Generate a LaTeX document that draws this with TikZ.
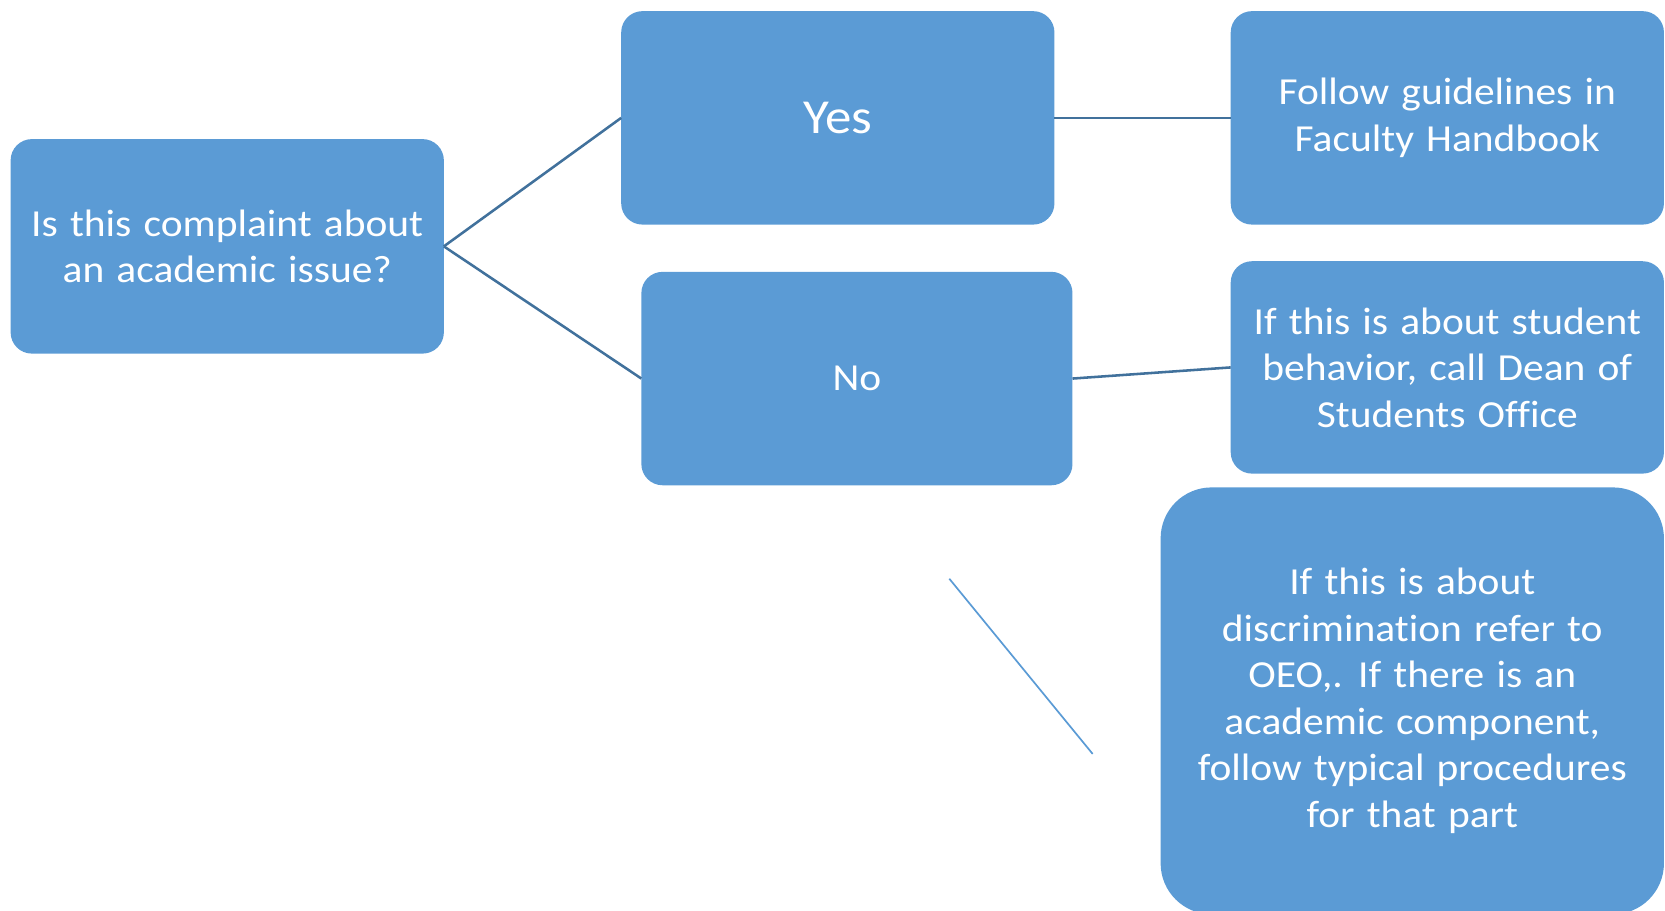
\documentclass[tikz,border=0pt]{standalone}
\usepackage{fontspec}
\setmainfont[FakeStretch=1.085,WordSpace=1.3,Ligatures=NoCommon]{Carlito}
\definecolor{boxblue}{HTML}{5B9BD5}
\definecolor{linkblue}{HTML}{41719C}
\begin{document}
\begin{tikzpicture}[x=0.5pt,y=-0.5pt,
  card/.style={draw=none,fill=boxblue,rounded corners=10pt,text=white,align=center,
    inner sep=0pt,outer sep=0pt,font=\fontsize{18pt}{21.9pt}\selectfont},
  link/.style={draw=linkblue,line width=1.2pt},
  thinlink/.style={draw=boxblue,line width=0.8pt}]
\useasboundingbox (0,0) rectangle (1568,857);
\node[card,minimum width=204pt,minimum height=101pt] (q) at (214,232)
  {Is this complaint about\\an academic issue?};
\node[card,minimum width=204pt,minimum height=100.5pt,font=\fontsize{23pt}{27pt}\selectfont] (yes) at (789,111) {Yes};
\node[card,minimum width=203pt,minimum height=100.5pt] (no) at (807,356.5) {No};
\node[card,minimum width=204pt,minimum height=100.5pt] (fg) at (1363,111)
  {Follow guidelines in\\Faculty Handbook};
\node[card,minimum width=204pt,minimum height=100pt] (sb) at (1363,346)
  {If this is about student\\behavior, call Dean of\\Students Office};
\node[card,rounded corners=24pt,minimum width=237pt,minimum height=201pt] (oeo) at (1330,660)
  {If this is about\\discrimination refer to\\OEO,. If there is an\\academic component,\\follow typical procedures\\for that part};
\draw[link] (q.east) -- (yes.west);
\draw[link] (q.east) -- (no.west);
\draw[link] (yes.east) -- (fg.west);
\draw[link] (no.east) -- (sb.west);
\coordinate (f1) at (894,545);
\coordinate (f2) at (1029,710);
\draw[thinlink] (f1) -- (f2);
\end{tikzpicture}
\end{document}
